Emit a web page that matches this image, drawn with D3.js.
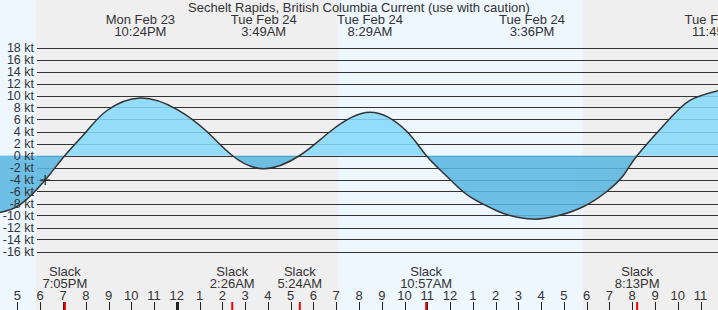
<!DOCTYPE html>
<html>
<head>
<meta charset="utf-8">
<script src="https://cdn.jsdelivr.net/npm/d3@7"></script>
<style>
  body { margin: 0; background: #fff; }
  svg text { font-family: "Liberation Sans", Arial, sans-serif; font-size: 13px; fill: #333; }
  svg text.ylab { font-size: 12.5px; }
</style>
</head>
<body>
<div id="chart"></div>
<script>
// Sechelt Rapids current prediction, Feb 23-24

const title = "Sechelt Rapids, British Columbia Current (use with caution)";

// curve points (time, knots)
const flowTimes = ["2026-02-23 16:14", "2026-02-23 17:07", "2026-02-23 18:13", "2026-02-23 19:05",
  "2026-02-23 20:03", "2026-02-23 20:56", "2026-02-23 22:24", "2026-02-24 00:00", "2026-02-24 01:19",
  "2026-02-24 02:26", "2026-02-24 03:49", "2026-02-24 05:24", "2026-02-24 06:44", "2026-02-24 08:29",
  "2026-02-24 10:06", "2026-02-24 10:57", "2026-02-24 12:00", "2026-02-24 12:53", "2026-02-24 14:03",
  "2026-02-24 14:38", "2026-02-24 15:36", "2026-02-24 16:41", "2026-02-24 17:52", "2026-02-24 18:53",
  "2026-02-24 19:37", "2026-02-24 20:13", "2026-02-24 21:31", "2026-02-24 22:32", "2026-02-24 23:46"];
const flowKnots = [-9.5, -8.2, -4.1, 0, 4.1, 7.5, 9.6, 7.7, 4.0, 0, -2.2, 0, 4.0, 7.2, 4.0, 0,
  -4.0, -6.9, -9.2, -10.0, -10.6, -10.1, -8.5, -6.0, -3.3, 0, 5.6, 9.2, 10.8];

// max / min flood and ebb labels
const peakTimes = ["2026-02-23 22:24", "2026-02-24 03:49", "2026-02-24 08:29", "2026-02-24 15:36", "2026-02-24 23:45"];
const peakDays = ["Mon Feb 23", "Tue Feb 24", "Tue Feb 24", "Tue Feb 24", "Tue Feb 24"];
const peakLabels = ["10:24PM", "3:49AM", "8:29AM", "3:36PM", "11:45PM"];

// slack water
const slackTimes = ["2026-02-23 19:05", "2026-02-24 02:26", "2026-02-24 05:24", "2026-02-24 10:57", "2026-02-24 20:13"];
const slackLabels = ["7:05PM", "2:26AM", "5:24AM", "10:57AM", "8:13PM"];

// night (sunset -> sunrise)
const nightStarts = ["2026-02-23 17:49", "2026-02-24 17:50"];
const nightEnds = ["2026-02-24 07:05", "2026-02-24 23:59"];

// current time marker
const nowTime = "2026-02-23 18:13";
const nowKnots = -4.1;

const yTicks = [18, 16, 14, 12, 10, 8, 6, 4, 2, 0, -2, -4, -6, -8, -10, -12, -14, -16];

const width = 718, height = 310;
const parse = d3.timeParse("%Y-%m-%d %H:%M");

const flow = flowTimes.map((t, i) => ({ t: parse(t), v: flowKnots[i] }));

let svg = d3.select("#chart").append("svg")
  .attr("width", width)
  .attr("height", height);

let x = d3.scaleTime()
  .domain([parse("2026-02-23 16:14"), parse("2026-02-24 23:46")])
  .range([0, width]);

let y = d3.scaleLinear()
  .domain([-16, 18])
  .range([251.5, 47.5]);

// day / night backgrounds
svg.append("rect")
  .attr("width", width).attr("height", height)
  .attr("fill", "#eef6fe");
svg.selectAll(".night")
  .data(nightStarts)
  .enter().append("rect")
  .attr("class", "night")
  .attr("x", d => x(parse(d)))
  .attr("width", (d, i) => x(parse(nightEnds[i])) - x(parse(d)))
  .attr("y", 0).attr("height", height)
  .attr("fill", "#efefef");

// grid lines
svg.selectAll(".grid")
  .data(yTicks)
  .enter().append("line")
  .attr("x1", 37).attr("x2", width)
  .attr("y1", d => Math.round(y(d)) + 0.5).attr("y2", d => Math.round(y(d)) + 0.5)
  .attr("stroke", "#333").attr("stroke-width", 1);

// filled current, flood above zero and ebb below
let curve = d3.curveNatural;
let area = d3.area()
  .x(d => x(d.t))
  .y0(y(0))
  .y1(d => y(d.v))
  .curve(curve);

let defs = svg.append("defs");
defs.append("clipPath").attr("id", "above")
  .append("rect").attr("x", 0).attr("y", 0).attr("width", width).attr("height", y(0));
defs.append("clipPath").attr("id", "below")
  .append("rect").attr("x", 0).attr("y", y(0)).attr("width", width).attr("height", height - y(0));

svg.append("path").datum(flow)
  .attr("d", area)
  .attr("clip-path", "url(#above)")
  .attr("fill", "#84d9fc").attr("fill-opacity", 0.86);
svg.append("path").datum(flow)
  .attr("d", area)
  .attr("clip-path", "url(#below)")
  .attr("fill", "#58b6e2").attr("fill-opacity", 0.86);

let line = d3.line()
  .x(d => x(d.t))
  .y(d => y(d.v))
  .curve(curve);
svg.append("path").datum(flow)
  .attr("d", line)
  .attr("fill", "none")
  .attr("stroke", "#333").attr("stroke-width", 1.5);

// now marker
let nx = x(parse(nowTime)), ny = y(nowKnots);
svg.append("path")
  .attr("d", `M${nx - 5},${ny}H${nx + 5}M${nx},${ny - 5}V${ny + 5}`)
  .attr("stroke", "#222").attr("stroke-width", 1.2);

// y labels
svg.selectAll(".ylab")
  .data(yTicks)
  .enter().append("text")
  .attr("class", "ylab")
  .attr("x", 34)
  .attr("y", d => y(d))
  .attr("dy", "0.35em")
  .attr("text-anchor", "end")
  .text(d => d + " kt");

// title
svg.append("text")
  .attr("x", 359).attr("y", 12)
  .attr("text-anchor", "middle")
  .text(title);

// peak labels
peakTimes.forEach((t, i) => {
  let px = x(parse(t));
  svg.append("text").attr("x", px).attr("y", 24).attr("text-anchor", "middle").text(peakDays[i]);
  svg.append("text").attr("x", px).attr("y", 36).attr("text-anchor", "middle").text(peakLabels[i]);
});

// slack labels
slackTimes.forEach((t, i) => {
  let px = x(parse(t));
  svg.append("text").attr("x", px).attr("y", 276).attr("text-anchor", "middle").text("Slack");
  svg.append("text").attr("x", px).attr("y", 288).attr("text-anchor", "middle").text(slackLabels[i]);
});

// hour ticks along the bottom
let hours = x.ticks(d3.timeHour.every(1));
svg.selectAll(".hlab")
  .data(hours)
  .enter().append("text")
  .attr("x", d => x(d))
  .attr("y", 300)
  .attr("text-anchor", "middle")
  .text(d3.timeFormat("%-I"));
svg.selectAll(".htick")
  .data(hours)
  .enter().append("line")
  .attr("x1", d => Math.round(x(d)) + 0.5).attr("x2", d => Math.round(x(d)) + 0.5)
  .attr("y1", 302).attr("y2", height)
  .attr("stroke", "#222")
  .attr("stroke-width", d => d.getHours() === 0 ? 3 : 1);

svg.selectAll(".stick")
  .data(slackTimes)
  .enter().append("line")
  .attr("x1", d => x(parse(d))).attr("x2", d => x(parse(d)))
  .attr("y1", 302).attr("y2", height)
  .attr("stroke", "#e00")
  .attr("stroke-width", 2);
</script>
</body>
</html>
